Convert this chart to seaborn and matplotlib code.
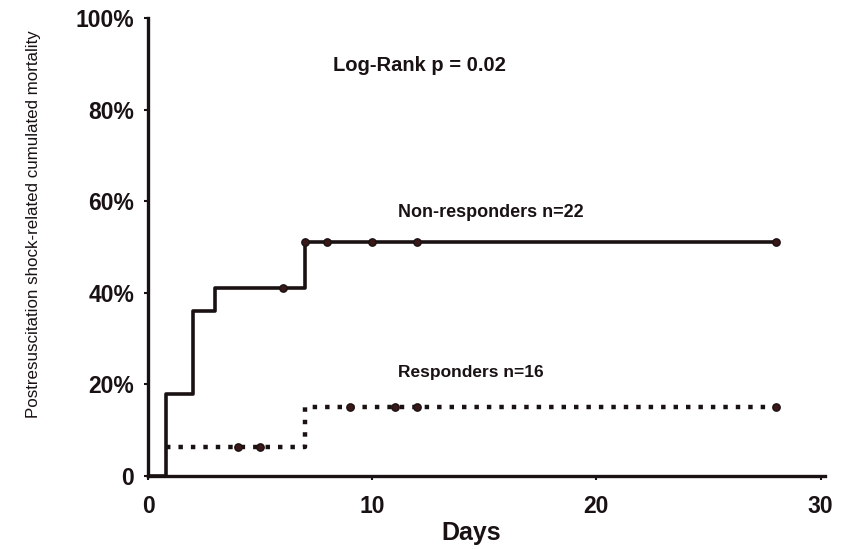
import matplotlib
matplotlib.use("Agg")
import matplotlib.pyplot as plt
import numpy as np
import pandas as pd
import seaborn as sns

# step curves (day, cumulated mortality %)
nonresp_days = [0, 0.8, 2, 3, 7, 28]
nonresp_mort = [0, 18, 36, 41, 51, 51]
nonresp_cens_days = [6, 7, 8, 10, 12, 28]

resp_days = [0.8, 7, 28]
resp_mort = [6.3, 15, 15]
resp_cens_days = [4, 5, 9, 11, 12, 28]

x_ticks = [0, 10, 20, 30]
y_ticks = [0, 20, 40, 60, 80, 100]
y_labels = ["0", "20%", "40%", "60%", "80%", "100%"]


def step_value(days, vals, t):
    idx = np.searchsorted(days, t, side="right") - 1
    return vals[max(idx, 0)]


sns.set_style("ticks")
plt.rcParams["font.family"] = ["Liberation Sans", "DejaVu Sans"]
ink = "#1a1212"

fig = plt.figure(figsize=(8.41, 5.49), dpi=100)
ax = fig.add_axes([0.176, 0.133, 0.805, 0.834])

nonresp = pd.DataFrame({"day": nonresp_days, "mort": nonresp_mort})
resp = pd.DataFrame({"day": resp_days, "mort": resp_mort})

sns.lineplot(data=nonresp, x="day", y="mort", ax=ax, color=ink,
             linewidth=2.6, drawstyle="steps-post", estimator=None)
sns.lineplot(data=resp, x="day", y="mort", ax=ax, color=ink,
             linewidth=3.2, drawstyle="steps-post", estimator=None,
             linestyle=(0, (1, 1.8)))

nc = pd.DataFrame({"day": nonresp_cens_days,
                   "mort": [step_value(nonresp_days, nonresp_mort, d) for d in nonresp_cens_days]})
rc = pd.DataFrame({"day": resp_cens_days,
                   "mort": [step_value(resp_days, resp_mort, d) for d in resp_cens_days]})
sns.scatterplot(data=nc, x="day", y="mort", ax=ax, color="#3a1818", s=28,
                edgecolor=ink, linewidth=1, zorder=5)
sns.scatterplot(data=rc, x="day", y="mort", ax=ax, color="#3a1818", s=28,
                edgecolor=ink, linewidth=1, zorder=5)

ax.set_xlim(0, 30.2)
ax.set_ylim(0, 100)
ax.set_xticks(x_ticks)
ax.set_yticks(y_ticks)
ax.set_yticklabels(y_labels)
ax.tick_params(axis="both", labelsize=16.5, length=3, width=1.5, colors=ink)
ax.tick_params(axis="x", pad=11)
ax.tick_params(axis="y", pad=7)
for lab in ax.get_xticklabels() + ax.get_yticklabels():
    lab.set_fontweight("bold")

for side in ["top", "right"]:
    ax.spines[side].set_visible(False)
for side in ["left", "bottom"]:
    ax.spines[side].set_linewidth(2.4)
    ax.spines[side].set_color(ink)

ax.set_xlabel("Days", fontsize=18, fontweight="bold", color=ink)
ax.xaxis.set_label_coords(0.478, -0.098)
ax.set_ylabel("Postresuscitation shock-related cumulated mortality", fontsize=12.2,
              color=ink)
ax.yaxis.set_label_coords(-0.158, 0.55)

ax.text(12.1, 89.7, "Log-Rank p = 0.02", fontsize=14.5, fontweight="bold",
        ha="center", va="center", color=ink)
ax.text(15.3, 57.5, "Non-responders n=22", fontsize=13, fontweight="bold",
        ha="center", va="center", color=ink)
ax.text(14.4, 22.5, "Responders n=16", fontsize=12.5, fontweight="bold",
        ha="center", va="center", color=ink)

fig.savefig("out.png", dpi=100)
